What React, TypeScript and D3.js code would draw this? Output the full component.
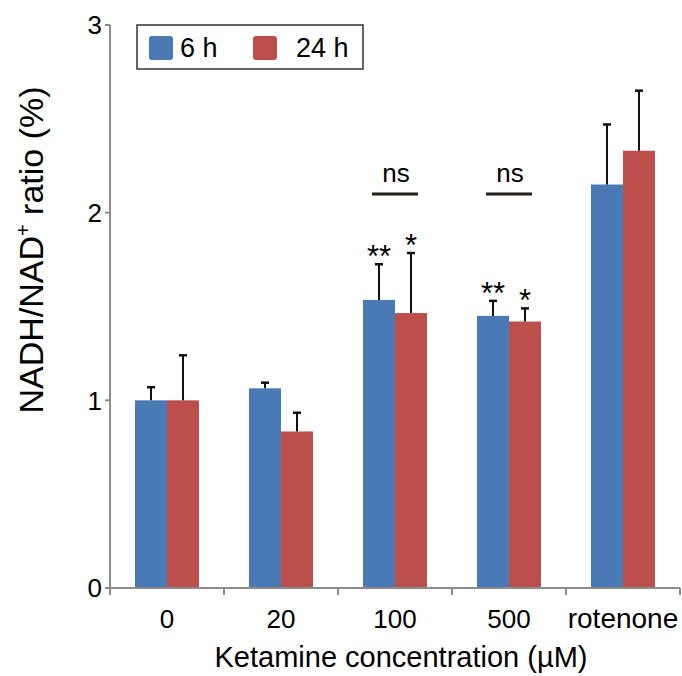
import React, { useEffect, useRef } from 'react'
import * as d3 from 'd3'

const categories = ['0', '20', '100', '500', 'rotenone']
const series = ['6 h', '24 h']
const mean6h = [1.0, 1.064, 1.535, 1.45, 2.15]
const err6h = [0.07, 0.03, 0.19, 0.08, 0.32]
const mean24h = [1.0, 0.834, 1.465, 1.42, 2.33]
const err24h = [0.24, 0.1, 0.32, 0.07, 0.32]
const sig6h = ['', '', '**', '**', '']
const sig24h = ['', '', '*', '*', '']
const nsGroups = ['100', '500']
const yTicks = [0, 1, 2, 3]

const colors = ['#4a7ab6', '#bc4f4b']
const font = '"Liberation Sans", Arial, sans-serif'

function App() {
  const svgRef = useRef<SVGSVGElement>(null)

  useEffect(() => {
    const width = 682
    const height = 676
    const left = 110
    const right = 680
    const top = 25
    const bottom = 588

    const svg = d3.select(svgRef.current)
    svg.selectAll('*').remove()
    svg.attr('width', width).attr('height', height)

    const x = d3.scaleBand().domain(categories).range([left, right]).paddingInner(0).paddingOuter(0)
    const xSub = d3.scaleBand().domain(series).range([0, 64])
    const y = d3.scaleLinear().domain([0, 3]).range([bottom, top])

    const rows = categories.map((c, i) => ({
      cat: c,
      vals: [
        { s: series[0], v: mean6h[i], e: err6h[i], sig: sig6h[i] },
        { s: series[1], v: mean24h[i], e: err24h[i], sig: sig24h[i] },
      ],
    }))

    const groupOffset = (x.bandwidth() - 64) / 2

    // bars
    const g = svg.append('g')
    rows.forEach((r) => {
      r.vals.forEach((d, j) => {
        const bx = x(r.cat)! + groupOffset + xSub(d.s)!
        const cx = bx + xSub.bandwidth() / 2
        g.append('rect')
          .attr('x', bx)
          .attr('y', y(d.v))
          .attr('width', xSub.bandwidth())
          .attr('height', y(0) - y(d.v))
          .style('fill', colors[j])
        // error bar (upper only)
        g.append('line')
          .attr('x1', cx).attr('x2', cx)
          .attr('y1', y(d.v)).attr('y2', y(d.v + d.e))
          .style('stroke', '#111').style('stroke-width', 2)
        g.append('line')
          .attr('x1', cx - 4).attr('x2', cx + 4)
          .attr('y1', y(d.v + d.e)).attr('y2', y(d.v + d.e))
          .style('stroke', '#111').style('stroke-width', 2.5)
        if (d.sig) {
          g.append('text')
            .attr('x', cx)
            .attr('y', y(d.v + d.e) + 3)
            .attr('text-anchor', 'middle')
            .style('font-family', font)
            .style('font-size', '31px')
            .text(d.sig)
        }
      })
    })

    // ns brackets
    nsGroups.forEach((c) => {
      const cx = x(c)! + x.bandwidth() / 2
      svg.append('line')
        .attr('x1', cx - 23).attr('x2', cx + 23)
        .attr('y1', 194).attr('y2', 194)
        .style('stroke', '#231f1c').style('stroke-width', 3)
      svg.append('text')
        .attr('x', cx + 1)
        .attr('y', 182)
        .attr('text-anchor', 'middle')
        .style('font-family', font)
        .style('font-size', '26px')
        .text('ns')
    })

    // y axis
    const ya = svg.append('g')
    ya.append('line')
      .attr('x1', left).attr('x2', left)
      .attr('y1', top).attr('y2', bottom)
      .style('stroke', '#8c8c8c').style('stroke-width', 2)
    yTicks.forEach((t) => {
      ya.append('line')
        .attr('x1', left - 5).attr('x2', left)
        .attr('y1', y(t)).attr('y2', y(t))
        .style('stroke', '#8c8c8c').style('stroke-width', 2)
      ya.append('text')
        .attr('x', left - 8)
        .attr('y', y(t))
        .attr('dy', '0.36em')
        .attr('text-anchor', 'end')
        .style('font-family', font)
        .style('font-size', '26px')
        .text(t)
    })

    // x axis
    const xa = svg.append('g')
    xa.append('line')
      .attr('x1', left - 2).attr('x2', right)
      .attr('y1', bottom).attr('y2', bottom)
      .style('stroke', '#8c8c8c').style('stroke-width', 2)
    categories.concat(['end']).forEach((c, i) => {
      const tx = left + i * x.bandwidth()
      xa.append('line')
        .attr('x1', tx).attr('x2', tx)
        .attr('y1', bottom).attr('y2', bottom + 7)
        .style('stroke', '#8c8c8c').style('stroke-width', 2)
    })
    categories.forEach((c) => {
      xa.append('text')
        .attr('x', x(c)! + x.bandwidth() / 2)
        .attr('y', 628)
        .attr('text-anchor', 'middle')
        .style('font-family', font)
        .style('font-size', c === 'rotenone' ? '28px' : '26px')
        .text(c)
    })

    // axis titles
    svg.append('text')
      .attr('x', 401)
      .attr('y', 667)
      .attr('text-anchor', 'middle')
      .style('font-family', font)
      .style('font-size', '29px')
      .text('Ketamine concentration (µM)')

    const yl = svg.append('text')
      .attr('transform', 'translate(43,250) rotate(-90)')
      .attr('text-anchor', 'middle')
      .style('font-family', font)
      .style('font-size', '34px')
    yl.append('tspan').text('NADH/NAD')
    yl.append('tspan').attr('dy', -13).style('font-size', '20px').text('+')
    yl.append('tspan').attr('dy', 13).text(' ratio (%)')

    // legend
    const lg = svg.append('g')
    lg.append('rect')
      .attr('x', 137).attr('y', 25)
      .attr('width', 226).attr('height', 44)
      .style('fill', '#fff').style('stroke', '#333').style('stroke-width', 1.5)
    const legX = [149, 253]
    const legTx = [180, 296]
    series.forEach((s, i) => {
      lg.append('rect')
        .attr('x', legX[i]).attr('y', 36)
        .attr('width', 24).attr('height', 24)
        .attr('rx', 3)
        .style('fill', colors[i])
      lg.append('text')
        .attr('x', legTx[i]).attr('y', 57)
        .style('font-family', font)
        .style('font-size', '27px')
        .text(s)
    })
  }, [])

  return <svg ref={svgRef} style={{ position: 'absolute', left: 0, top: 0 }}></svg>
}

export default App
